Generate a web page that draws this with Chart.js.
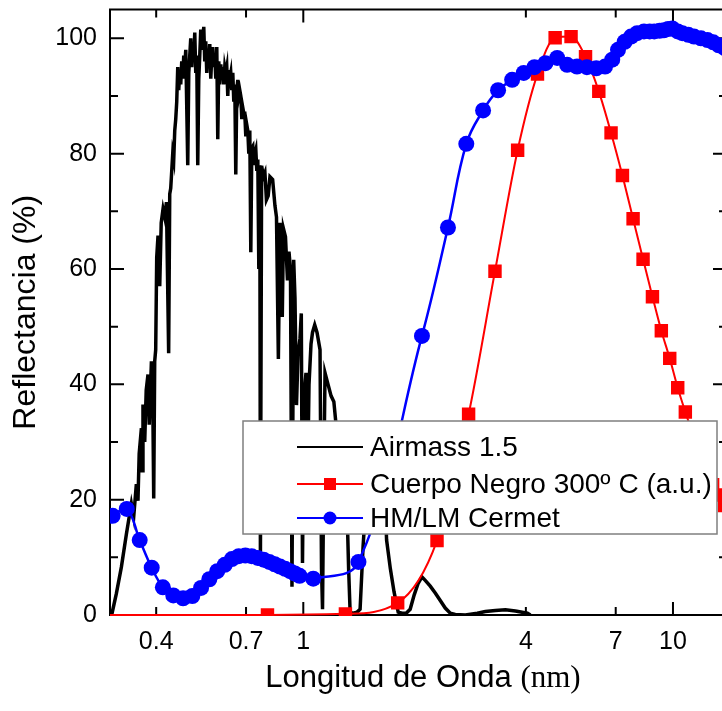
<!DOCTYPE html>
<html>
<head>
<meta charset="utf-8">
<script src="https://cdn.jsdelivr.net/npm/chart.js@4.4.1/dist/chart.umd.min.js"></script>
<style>
html, body { margin: 0; padding: 0; background: #fff; overflow: hidden; }
#wrap { width: 740px; height: 711px; }
</style>
</head>
<body>
<div id="wrap"><canvas id="myChart" width="740" height="711"></canvas></div>
<script>
// Airmass 1.5 (linea negra)
var airmassX = [0.3031, 0.3121, 0.322, 0.3322, 0.3427, 0.3477, 0.3535, 0.3571, 0.3598, 0.3648, 0.3666, 0.3684, 0.3724, 0.3759, 0.3801, 0.383, 0.3883, 0.3915, 0.3939, 0.3963, 0.3988, 0.4013, 0.4046, 0.4089, 0.4127, 0.4174, 0.4218, 0.4264, 0.4323,
    0.4352, 0.4379, 0.4407, 0.4434, 0.4462, 0.449, 0.4518, 0.4546, 0.4575, 0.4603, 0.4632, 0.4661, 0.469, 0.472, 0.4749, 0.4779, 0.4809, 0.4839, 0.4869, 0.49, 0.493, 0.4961, 0.4992, 0.5023, 0.5055, 0.5086, 0.5118, 0.515, 0.5182, 0.5215, 0.5247, 0.528, 0.5313, 0.5346, 0.538, 0.5413, 0.5447, 0.5481, 0.5515, 0.555, 0.5585, 0.562, 0.5655, 0.569, 0.5726, 0.5762, 0.5798, 0.5834, 0.587, 0.5907, 0.5944, 0.5981, 0.6019, 0.6056, 0.6094, 0.6132, 0.6171, 0.6209, 0.6248, 0.6287, 0.6326, 0.6366, 0.6406, 0.6446, 0.6486, 0.6527, 0.6567, 0.6609, 0.665, 0.6691, 0.6733, 0.6775, 0.6818, 0.686, 0.6903, 0.6946, 0.699, 0.7034, 0.7078, 0.7122, 0.7166, 0.7211, 0.7256, 0.7302, 0.7347, 0.7393, 0.744, 0.7486, 0.7533, 0.758, 0.7627,
    0.7656, 0.7714, 0.78, 0.7874, 0.7948, 0.8036, 0.8124, 0.8261, 0.8381, 0.8462, 0.8562, 0.8649, 0.8773, 0.8838, 0.8949, 0.9062, 0.9146, 0.9232, 0.9319, 0.9419, 0.9495, 0.9585, 0.9674, 0.9797, 0.9876, 0.995, 1.0044, 1.017, 1.0297, 1.0362, 1.0492, 1.0591, 1.0737, 1.0892, 1.1098, 1.1202, 1.1272, 1.1343, 1.1449, 1.1666, 1.1888, 1.2096, 1.2263, 1.2495, 1.2733, 1.2974, 1.3137, 1.3262, 1.3386, 1.364, 1.3985, 1.4244, 1.4514, 1.4787, 1.5162, 1.56, 1.61, 1.66, 1.68, 1.72, 1.76, 1.8058, 1.8514, 1.8981, 1.9457, 1.9953, 2.0456, 2.094, 2.1374, 2.205, 2.2749, 2.3468, 2.421, 2.4982, 2.577, 2.7434, 2.956, 3.1083, 3.3082, 3.521, 3.7475, 4.0391, 4.1161];
var airmassY = [0, 3.7, 8.3, 14, 19.3, 17, 22.7, 19.8, 28, 32.4, 25, 36.5, 30, 39, 41.7, 33, 44, 38, 20.2, 44, 46, 62, 65.8, 57, 68, 70.4, 69, 71.6, 45.4,
    73, 74, 77, 80, 79, 84, 86, 89, 95, 91, 94, 92, 96, 93, 97, 95, 98, 88, 78, 94, 97, 100, 95, 99, 96, 101, 94, 97, 78, 93, 97, 101.5, 98, 100, 102, 96, 99.5, 94, 98, 96, 99, 93, 97, 98.5, 95, 97, 93, 98.5, 82.5, 96, 92, 95.5, 93, 95, 92, 95, 94, 95, 90, 94.5, 93, 94, 91, 94, 89, 92, 76.4, 91, 92.8, 90, 91, 90, 86, 88, 87, 87, 83, 85, 84, 80, 84, 62.9, 81, 81.3, 78, 80, 80.7, 77, 79, 60, 78,
    9, 77.9, 76, 76.7, 72, 72.7, 76, 75.5, 71, 69, 44.4, 68, 51.7, 67, 65.6, 58, 63, 60, 4.9, 61.6, 55, 36.4, 45, 48, 52.3, 9, 38, 42, 28, 40, 47, 49, 50.3, 49, 46, 8, 1, 20, 42, 40, 38, 37, 33, 30, 26, 22, 18, 8, 0.5, 0.3, 0.5, 1, 12, 20, 25, 28, 27, 22, 13, 8, 4, 0.5, 0.3, 0.3, 1, 3.5, 5.5, 6.6, 6, 5, 3.8, 2.5, 1.2, 0.3, 0.1, 0, 0.3, 0.6, 0.8, 0.9, 0.7, 0.3, 0];

// Cuerpo negro 300 C (cuadrados rojos)
var cuerpoX = [0.28, 0.8, 1.3, 1.8, 2.3, 2.8, 3.3, 3.8, 4.3, 4.8, 5.3, 5.8, 6.3, 6.8, 7.3, 7.8, 8.3, 8.8, 9.3, 9.8, 10.3, 10.8, 11.3, 11.8, 12.3, 12.8, 13.3, 13.8];
var cuerpoY = [0, 0, 0.2, 2.1, 12.9, 34.8, 59.6, 80.6, 93.8, 100.1, 100.3, 96.8, 90.8, 83.6, 76.2, 68.7, 61.7, 55.2, 49.3, 44.5, 39.4, 35.2, 31.5, 28.2, 25.3, 22.6, 20.8, 19.0];

// HM/LM Cermet (circulos azules)
var cermetX = [0.305, 0.333, 0.361, 0.389, 0.417, 0.445, 0.473, 0.501, 0.529, 0.557, 0.585, 0.613, 0.641, 0.669, 0.697, 0.725, 0.753, 0.781, 0.809, 0.837, 0.865, 0.893, 0.921, 0.949, 0.977, 1.064, 1.41, 2.094, 2.462, 2.76, 3.064, 3.364, 3.672, 3.947, 4.219, 4.519, 4.861, 5.173, 5.5, 5.85, 6.2, 6.55, 6.85, 7.1, 7.4, 7.7, 8.0, 8.35, 8.65, 8.9, 9.2, 9.45, 9.7, 9.96, 10.3, 10.6, 11.0, 11.4, 11.9, 12.4, 12.85, 13.3, 13.8, 14.3];
var cermetY = [17.2, 18.4, 13.0, 8.2, 4.8, 3.4, 2.9, 3.3, 4.7, 6.2, 7.6, 8.7, 9.7, 10.2, 10.3, 10.2, 9.9, 9.6, 9.2, 8.8, 8.4, 8.0, 7.6, 7.2, 6.8, 6.3, 9.2, 48.4, 67.2, 81.7, 87.5, 91.0, 92.8, 94.0, 95.0, 95.7, 96.6, 95.4, 95.1, 95.0, 94.8, 95.1, 96.3, 98.0, 99.4, 100.3, 100.9, 101.2, 101.2, 101.2, 101.3, 101.4, 101.6, 101.7, 101.2, 100.9, 100.6, 100.3, 100.0, 99.7, 99.3, 98.8, 98.3, 97.9];

var xTicks = [0.4, 0.7, 1, 4, 7, 10];
var xMajor = [1, 10];
var yTicks = [0, 20, 40, 60, 80, 100];
var yMinor = [10, 30, 50, 70, 90];
var legendLabels = ['Airmass 1.5', 'Cuerpo Negro 300º C (a.u.)', 'HM/LM Cermet'];

Chart.defaults.font.family = '"Liberation Sans", Arial, sans-serif';
Chart.defaults.color = '#000';

function pairs(xs, ys) {
    return xs.map(function(x, i) { return {x: x, y: ys[i]}; });
}

var clipBox = {left: 0, top: 0, right: 0, bottom: 1};

// marco con marcas hacia adentro
var framePlugin = {
    id: 'frame',
    beforeDatasetsDraw: function(chart) {
        var c = chart.ctx, a = chart.chartArea;
        var xs = chart.scales.x, ys = chart.scales.y;
        c.save();
        c.strokeStyle = '#000';
        c.lineWidth = 2;
        c.strokeRect(a.left, a.top, a.right - a.left, a.bottom - a.top);
        c.beginPath();
        xTicks.forEach(function(v) {
            var px = xs.getPixelForValue(v);
            var len = xMajor.indexOf(v) >= 0 ? 13 : 8;
            c.moveTo(px, a.bottom); c.lineTo(px, a.bottom - len);
            c.moveTo(px, a.top); c.lineTo(px, a.top + len);
        });
        yTicks.concat(yMinor).forEach(function(v) {
            var py = ys.getPixelForValue(v);
            var len = yTicks.indexOf(v) >= 0 ? 14 : 8;
            c.moveTo(a.left, py); c.lineTo(a.left + len, py);
            c.moveTo(a.right, py); c.lineTo(a.right - len, py);
        });
        c.stroke();
        c.restore();
    }
};

// leyenda dentro del grafico
var legendPlugin = {
    id: 'boxLegend',
    afterDatasetsDraw: function(chart) {
        var c = chart.ctx;
        var bx = 243, by = 421, bw = 474, bh = 113;
        var rows = [447, 484, 518];
        var sets = chart.data.datasets;
        c.save();
        c.fillStyle = '#fff';
        c.fillRect(bx, by, bw, bh);
        c.strokeStyle = '#7f7f7f';
        c.lineWidth = 1.5;
        c.strokeRect(bx, by, bw, bh);
        sets.forEach(function(ds, i) {
            var y = rows[i];
            c.strokeStyle = ds.borderColor;
            c.lineWidth = 2;
            c.beginPath();
            c.moveTo(297, y); c.lineTo(363, y);
            c.stroke();
            c.fillStyle = ds.borderColor;
            if (ds.pointStyle === 'rect') {
                c.fillRect(330 - 6, y - 6, 12, 12);
            } else if (ds.pointStyle === 'circle') {
                c.beginPath();
                c.arc(330, y, 6.5, 0, Math.PI * 2);
                c.fill();
            }
            c.fillStyle = '#000';
            c.font = '28px "Liberation Sans", Arial, sans-serif';
            c.textBaseline = 'middle';
            c.textAlign = 'left';
            c.fillText(ds.label, 370, y + 1);
        });
        c.restore();
    }
};

// titulo del eje x con "(nm)" en serif
var xTitlePlugin = {
    id: 'xTitle',
    afterDraw: function(chart) {
        var c = chart.ctx;
        var t1 = 'Longitud de Onda ', t2 = '(nm)';
        c.save();
        c.fillStyle = '#000';
        c.textBaseline = 'alphabetic';
        c.textAlign = 'left';
        c.font = '31px "Liberation Sans", Arial, sans-serif';
        var w1 = c.measureText(t1).width;
        c.font = '31px "Liberation Serif", "Times New Roman", serif';
        var w2 = c.measureText(t2).width;
        var x0 = 423 - (w1 + w2) / 2;
        c.font = '31px "Liberation Sans", Arial, sans-serif';
        c.fillText(t1, x0, 687);
        c.font = '31px "Liberation Serif", "Times New Roman", serif';
        c.fillText(t2, x0 + w1, 687);
        c.restore();
    }
};

var ctx = document.getElementById('myChart').getContext('2d');
var myChart = new Chart(ctx, {
    type: 'line',
    data: {
        datasets: [{
            label: legendLabels[0],
            data: pairs(airmassX, airmassY),
            borderColor: '#000000',
            borderWidth: 3.5,
            pointRadius: 0,
            tension: 0,
            order: 3,
            clip: clipBox
        }, {
            label: legendLabels[1],
            data: pairs(cuerpoX, cuerpoY),
            borderColor: '#ff0000',
            backgroundColor: '#ff0000',
            borderWidth: 2,
            pointStyle: 'rect',
            pointRadius: 9.5,
            pointBorderWidth: 0,
            cubicInterpolationMode: 'monotone',
            order: 2,
            clip: clipBox
        }, {
            label: legendLabels[2],
            data: pairs(cermetX, cermetY),
            borderColor: '#0000ff',
            backgroundColor: '#0000ff',
            borderWidth: 2.5,
            pointStyle: 'circle',
            pointRadius: 8,
            pointBorderWidth: 0,
            tension: 0.4,
            order: 1,
            clip: clipBox
        }]
    },
    options: {
        responsive: false,
        maintainAspectRatio: false,
        animation: false,
        layout: { padding: { top: 6, right: 13, left: 0, bottom: 0 } },
        plugins: {
            legend: { display: false },
            tooltip: { enabled: false }
        },
        scales: {
            x: {
                type: 'logarithmic',
                min: 0.3,
                max: 14,
                grid: { display: false, drawTicks: false },
                border: { display: false },
                afterBuildTicks: function(s) {
                    s.ticks = xTicks.map(function(v) { return {value: v}; });
                },
                afterFit: function(s) {
                    s.height = 96;
                    s.paddingLeft = 0;
                    s.paddingRight = 0;
                },
                ticks: {
                    autoSkip: false,
                    maxRotation: 0,
                    padding: 12,
                    color: '#000',
                    font: { size: 25 },
                    callback: function(v) { return String(v); }
                }
            },
            y: {
                min: 0,
                max: 105,
                grid: { display: false, drawTicks: false },
                border: { display: false },
                afterBuildTicks: function(s) {
                    s.ticks = yTicks.map(function(v) { return {value: v}; });
                },
                afterFit: function(s) {
                    s.width = 110;
                    s.paddingTop = 0;
                    s.paddingBottom = 0;
                },
                ticks: { padding: 13, color: '#000', font: { size: 25 } },
                title: {
                    display: true,
                    text: 'Reflectancia (%)',
                    color: '#000',
                    font: { size: 32 },
                    padding: { top: 7, bottom: 0 }
                }
            }
        }
    },
    plugins: [framePlugin, legendPlugin, xTitlePlugin]
});
</script>
</body>
</html>
